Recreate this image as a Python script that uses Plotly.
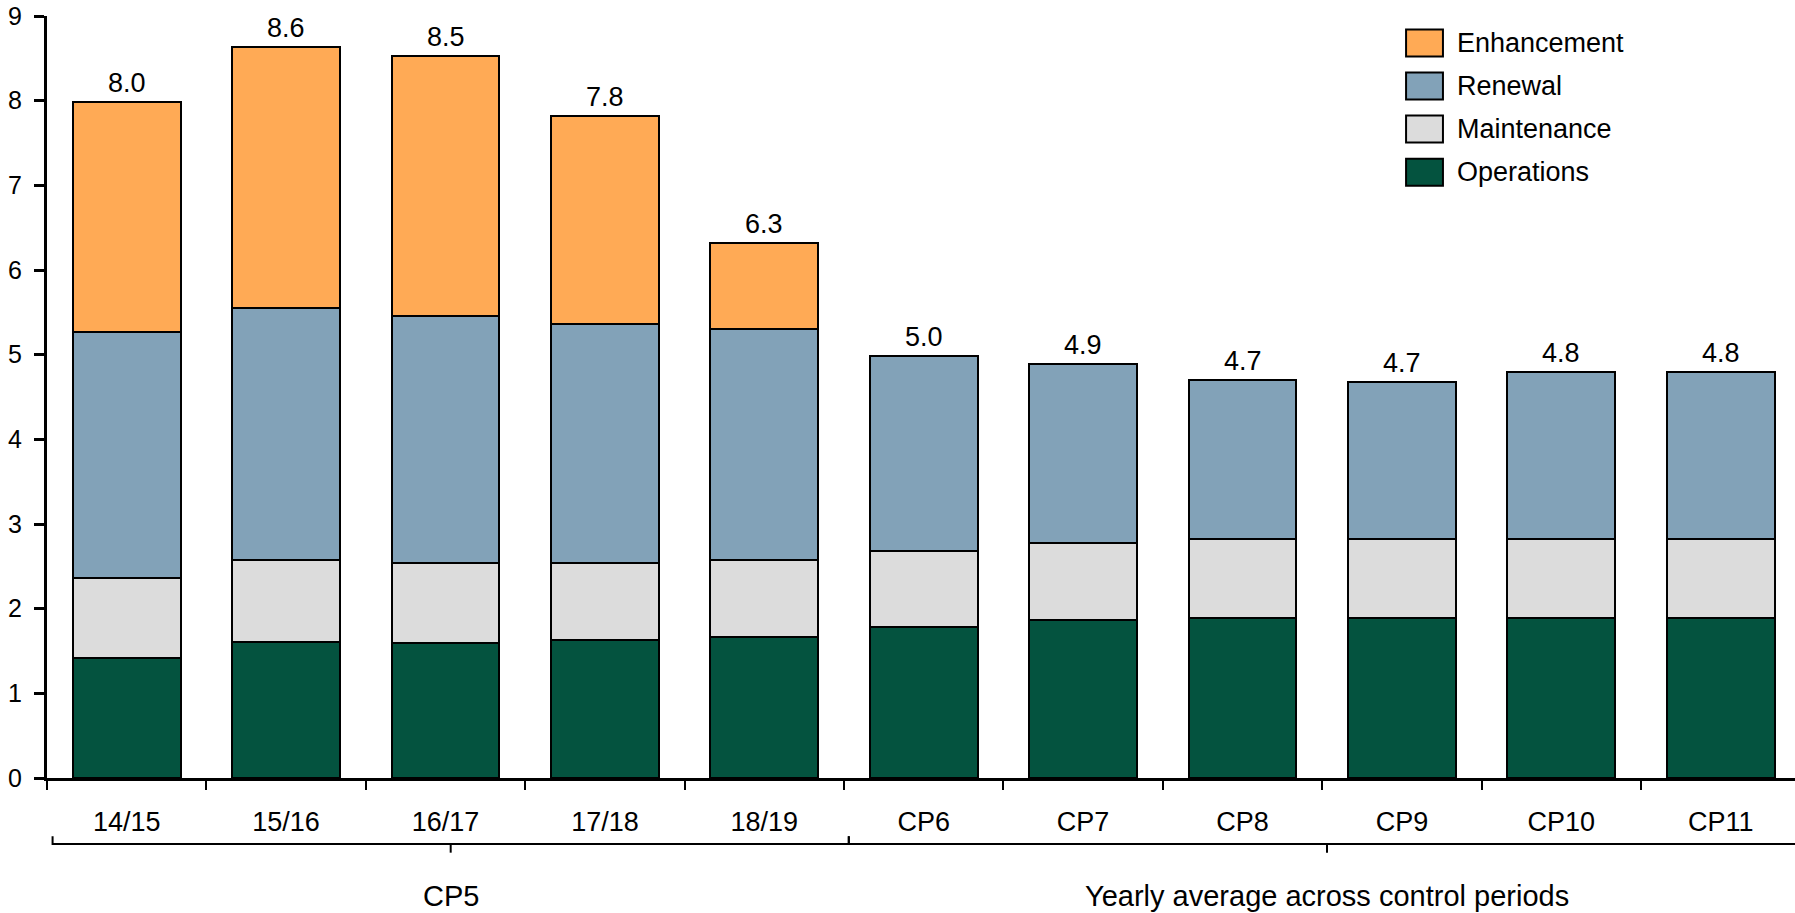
import plotly.graph_objects as go

# Stacked spend by year / control period
categories = ['14/15', '15/16', '16/17', '17/18', '18/19',
              'CP6', 'CP7', 'CP8', 'CP9', 'CP10', 'CP11']
operations = [1.42, 1.61, 1.59, 1.63, 1.66, 1.78, 1.87, 1.89, 1.89, 1.89, 1.89]
maintenance = [0.94, 0.97, 0.95, 0.91, 0.91, 0.90, 0.90, 0.93, 0.93, 0.93, 0.93]
renewal = [2.91, 2.97, 2.92, 2.82, 2.73, 2.31, 2.12, 1.88, 1.86, 1.98, 1.98]
enhancement = [2.72, 3.08, 3.07, 2.46, 1.02, 0, 0, 0, 0, 0, 0]

groups = ['CP5', 'Yearly average across control periods']
group_spans = [(-0.465, 4.53), (4.53, 10.53)]

series = [('Operations', operations, '#04533F'),
          ('Maintenance', maintenance, '#DCDCDC'),
          ('Renewal', renewal, '#82A2B8'),
          ('Enhancement', enhancement, '#FFAA55')]

FONT = 'Liberation Sans, Arial, sans-serif'

fig = go.Figure()
for name, vals, col in series:
    fig.add_trace(go.Bar(x=categories, y=vals, name=name, width=0.677,
                         marker=dict(color=col, line=dict(color='black', width=2)),
                         showlegend=False))

totals = [sum(v) for v in zip(operations, maintenance, renewal, enhancement)]
for cat, tot in zip(categories, totals):
    fig.add_annotation(x=cat, y=tot, text=f'{tot:.1f}', showarrow=False,
                       yanchor='bottom', yshift=2,
                       font=dict(family=FONT, size=27, color='black'))

# brackets under the category labels + group titles
for label, (x0, x1) in zip(groups, group_spans):
    mid = (x0 + x1) / 2
    fig.add_shape(type='path', xref='x', yref='paper',
                  path=f'M {x0},-0.0766 L {x0},-0.0866 L {x1},-0.0866 L {x1},-0.0766',
                  line=dict(color='black', width=2))
    fig.add_shape(type='line', xref='x', yref='paper', x0=mid, x1=mid,
                  y0=-0.0866, y1=-0.098, line=dict(color='black', width=2))
    fig.add_annotation(x=mid, y=-0.1554, xref='x', yref='paper', text=label,
                       showarrow=False, yanchor='middle',
                       font=dict(family=FONT, size=29, color='black'))

# hand-drawn legend (bigger swatches than plotly's own)
leg_y = [0.9646, 0.908, 0.8517, 0.795]
for (name, vals, col), yy in zip(reversed(series), leg_y):
    fig.add_shape(type='rect', xref='paper', yref='paper',
                  x0=0.7775, x1=0.7986, y0=yy - 0.0177, y1=yy + 0.0177,
                  fillcolor=col, line=dict(color='black', width=2))
    fig.add_annotation(x=0.8055, y=yy, xref='paper', yref='paper', text=name,
                       showarrow=False, xanchor='left', yanchor='middle',
                       font=dict(family=FONT, size=27, color='black'))

fig.update_layout(barmode='stack', width=1795, height=913,
                  margin=dict(l=47, r=0, t=16, b=135),
                  plot_bgcolor='white', paper_bgcolor='white',
                  font=dict(family=FONT, color='black'))

fig.update_xaxes(type='category', range=[-0.5, 10.466], showgrid=False,
                 showline=True, linecolor='black', linewidth=3,
                 ticks='outside', tickson='boundaries', ticklen=9, tickwidth=2,
                 tickcolor='black', ticklabelstandoff=18,
                 tickfont=dict(family=FONT, size=27, color='black'))

fig.update_yaxes(range=[0, 9], dtick=1, showgrid=False, zeroline=False,
                 showline=True, linecolor='black', linewidth=3,
                 ticks='outside', ticklen=10, tickwidth=3, tickcolor='black',
                 ticklabelstandoff=7,
                 tickfont=dict(family=FONT, size=25, color='black'))

# drop the default body margin so the figure sits at the page corner
fig.write_html("out.html", config={'displayModeBar': False},
               post_script="document.body.style.margin='0';")
